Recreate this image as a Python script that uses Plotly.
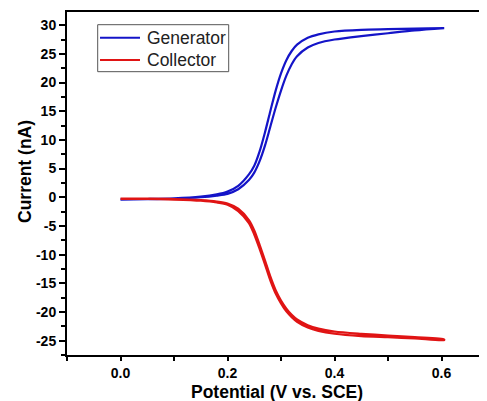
import plotly.graph_objects as go

# Potential grid (V vs. SCE) for each sweep branch
potential = [0.00, 0.05, 0.10, 0.15, 0.18, 0.20, 0.22, 0.24, 0.25, 0.26, 0.27,
             0.28, 0.29, 0.30, 0.31, 0.32, 0.33, 0.35, 0.37, 0.40, 0.45, 0.50,
             0.55, 0.605]

# Generator current (nA): forward and reverse sweeps
gen_forward = [-0.4, -0.35, -0.25, 0.0, 0.3, 0.6, 1.4, 3.0, 4.3, 6.3, 9.0,
               12.3, 15.6, 18.6, 21.2, 23.2, 24.6, 26.1, 26.9, 27.5, 28.1, 28.6,
               29.1, 29.5]
gen_reverse = [-0.35, -0.3, -0.2, 0.1, 0.5, 1.0, 2.0, 4.0, 5.5, 8.0, 11.3,
               15.0, 18.6, 21.6, 23.9, 25.5, 26.6, 27.8, 28.4, 28.9, 29.2, 29.3,
               29.4, 29.5]

# Collector current (nA): forward and reverse sweeps
col_forward = [-0.3, -0.3, -0.4, -0.6, -0.9, -1.3, -2.4, -4.5, -6.5, -9.0, -11.7,
               -14.5, -16.8, -18.5, -19.9, -20.9, -21.7, -22.7, -23.3, -23.8, -24.2,
               -24.4, -24.6, -24.9]
col_reverse = [-0.25, -0.25, -0.3, -0.5, -0.75, -1.1, -2.0, -4.0, -5.8, -8.3, -11.0,
               -13.8, -16.2, -18.0, -19.4, -20.5, -21.3, -22.3, -22.9, -23.4, -23.8,
               -24.1, -24.4, -24.8]

series_names = ["Generator", "Collector"]
x_ticks = [0.0, 0.2, 0.4, 0.6]
x_ticklabels = ["0.0", "0.2", "0.4", "0.6"]
y_ticks = [-25, -20, -15, -10, -5, 0, 5, 10, 15, 20, 25, 30]
y_ticklabels = ["-25", "-20", "-15", "-10", "-5", "0", "5", "10", "15", "20", "25", "30"]

BLUE = "#1414c8"
RED = "#e01414"
FONT = "Liberation Sans, Arial, sans-serif"

loop_x = potential + potential[::-1]
gen_loop = gen_forward + gen_reverse[::-1]
col_loop = col_forward + col_reverse[::-1]

fig = go.Figure()
fig.add_trace(go.Scatter(x=loop_x, y=gen_loop, mode="lines", name=series_names[0],
                         showlegend=False,
                         line=dict(color=BLUE, width=2.2, shape="spline", smoothing=0.8)))
fig.add_trace(go.Scatter(x=loop_x, y=col_loop, mode="lines", name=series_names[1],
                         showlegend=False,
                         line=dict(color=RED, width=2.2, shape="spline", smoothing=0.8)))

# Custom legend box (paper coordinates)
leg_x0, leg_x1, leg_y0, leg_y1 = 0.0731, 0.385, 0.826, 0.963
line_x0, line_x1, text_x = 0.0786, 0.1738, 0.1857
row_y = [0.925, 0.860]
colors = [BLUE, RED]

shapes = [dict(type="rect", xref="paper", yref="paper", x0=leg_x0, x1=leg_x1,
               y0=leg_y0, y1=leg_y1, line=dict(color="#555555", width=1),
               fillcolor="white", layer="above")]
annotations = []
for name, c, yy in zip(series_names, colors, row_y):
    shapes.append(dict(type="line", xref="paper", yref="paper", x0=line_x0, x1=line_x1,
                       y0=yy, y1=yy, line=dict(color=c, width=2), layer="above"))
    annotations.append(dict(text=name, xref="paper", yref="paper", x=text_x, y=yy,
                            xanchor="left", yanchor="middle", showarrow=False,
                            font=dict(size=17.5, family=FONT, color="#222222")))

annotations += [
    dict(text="<b>Potential (V vs. SCE)</b>", xref="paper", yref="paper",
         x=0.5, y=-0.109, xanchor="center", yanchor="middle", showarrow=False,
         font=dict(size=17.5, family=FONT, color="black")),
    dict(text="<b>Current (nA)</b>", xref="paper", yref="paper",
         x=-0.1, y=0.5335, xanchor="center", yanchor="middle", textangle=-90,
         showarrow=False, font=dict(size=17.5, family=FONT, color="black")),
]

fig.update_layout(
    width=479, height=393,
    margin=dict(l=59, r=0, t=4, b=46),
    paper_bgcolor="white", plot_bgcolor="white",
    font=dict(family=FONT, color="black"),
    showlegend=False,
    shapes=shapes,
    annotations=annotations,
)

fig.update_xaxes(
    range=[-0.1, 0.685], tickvals=x_ticks, ticktext=x_ticklabels,
    showgrid=False, zeroline=False,
    showline=True, linecolor="black", linewidth=2, mirror=True,
    ticks="outside", ticklen=4, tickwidth=2, tickcolor="black",
    tickfont=dict(size=14, family=FONT, color="black", weight="bold"),
    minor=dict(dtick=0.1, tick0=0.0, ticks="outside", ticklen=4, tickwidth=2,
               tickcolor="black", showgrid=False),
)
fig.update_yaxes(
    range=[-27.5, 32.3], tickvals=y_ticks, ticktext=y_ticklabels,
    showgrid=False, zeroline=False,
    showline=True, linecolor="black", linewidth=2, mirror=False,
    ticks="outside", ticklen=6, tickwidth=2, tickcolor="black",
    tickfont=dict(size=14, family=FONT, color="black", weight="bold"),
    minor=dict(dtick=2.5, tick0=0, ticks="outside", ticklen=4, tickwidth=2,
               tickcolor="black", showgrid=False),
)

fig.write_html("out.html")
